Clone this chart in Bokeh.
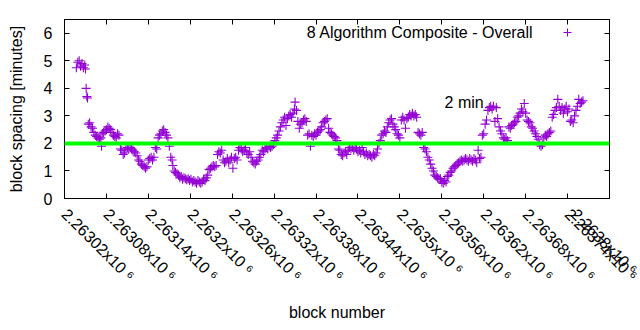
import math
from bokeh.plotting import figure
from bokeh.models import (Range1d, FixedTicker, LinearAxis, Span, Label, Legend,
                          LegendItem, ColumnDataSource)
from bokeh.embed import file_html
from bokeh.resources import INLINE

FONT = "Liberation Sans"
FS = "16px"

# ---- data -------------------------------------------------------------
BLOCK_BASE = 2263000
block_offsets = [
    37, 39, 41, 43, 45, 47, 49, 50, 51, 52,
    53, 54, 56, 58, 60, 62, 64, 66, 68, 70,
    72, 73, 74, 76, 78, 80, 82, 84, 86, 88,
    90, 92, 94, 96, 98, 100, 102, 104, 106, 108,
    110, 112, 114, 116, 118, 120, 122, 124, 126, 128,
    130, 132, 134, 136, 138, 140, 142, 144, 146, 148,
    150, 152, 154, 156, 158, 160, 162, 164, 166, 168,
    170, 172, 174, 175, 177, 179, 181, 183, 185, 187,
    189, 191, 193, 195, 197, 199, 201, 203, 205, 207,
    209, 211, 213, 215, 217, 219, 221, 223, 225, 227,
    229, 231, 233, 235, 237, 239, 241, 243, 245, 247,
    249, 251, 253, 255, 257, 259, 261, 263, 265, 267,
    269, 271, 273, 275, 277, 279, 281, 283, 285, 287,
    289, 291, 293, 295, 297, 299, 301, 303, 305, 307,
    309, 311, 313, 315, 317, 319, 321, 323, 325, 327,
    329, 331, 333, 335, 337, 339, 341, 343, 345, 347,
    349, 350, 352, 354, 356, 358, 360, 362, 364, 366,
    368, 370, 372, 374, 376, 378, 380, 382, 384, 386,
    388, 390, 392, 394, 396, 398, 400, 402, 404, 406,
    408, 410, 412, 414, 416, 418, 420, 422, 424, 426,
    428, 430, 432, 434, 436, 438, 440, 442, 444, 446,
    448, 450, 452, 454, 456, 458, 460, 462, 464, 466,
    468, 470, 472, 474, 476, 478, 480, 482, 484, 486,
    488, 490, 492, 494, 496, 498, 500, 502, 504, 506,
    508, 510, 512, 514, 516, 518, 520, 522, 524, 526,
    528, 530, 532, 534, 536, 538, 540, 542, 544, 546,
    548, 550, 552, 554, 556, 558, 560, 562, 564, 566,
    568, 570, 572, 574, 576, 578, 580, 582, 584, 586,
    588, 590, 592, 594, 596, 598, 600, 602, 604, 606,
    608, 610, 612, 614, 616, 618, 620, 622, 624, 626,
    628, 630, 632, 634, 636, 638, 640, 642, 644, 646,
    648, 650, 652, 654, 656, 658, 660, 662, 664, 666,
    668, 670, 672, 674, 676, 678, 680, 682, 684, 686,
    688, 690, 692, 694, 696, 698, 700, 702, 704, 706,
    708, 710, 712, 714, 716, 718, 720, 722, 724, 726,
    728, 730, 732, 734, 736, 738, 740, 742, 744, 746,
    748, 750, 752, 754, 756, 758, 760, 762,
]
spacing_minutes = [
    4.75, 4.95, 5.0, 4.8, 4.9, 4.75, 4.85, 4.7, 4.0, 3.7,
    3.65, 2.7, 2.75, 2.6, 2.55, 2.4, 2.3, 2.25, 2.2, 2.15,
    2.2, 1.9, 2.35, 2.4, 2.45, 2.5, 2.6, 2.55, 2.5, 2.4,
    2.3, 2.25, 2.2, 2.35, 2.3, 1.8, 1.75, 1.6, 1.65, 1.8,
    1.85, 1.8, 1.85, 1.8, 1.75, 1.7, 1.65, 1.55, 1.4, 1.35,
    1.25, 1.2, 1.15, 1.1, 1.15, 1.4, 1.45, 1.5, 1.4, 1.5,
    1.85, 1.8, 2.2, 2.3, 2.35, 2.45, 2.5, 2.4, 2.3, 2.2,
    1.9, 1.5, 1.4, 1.2, 1.0, 0.95, 0.9, 0.85, 0.75, 0.8,
    0.7, 0.75, 0.72, 0.68, 0.72, 0.65, 0.7, 0.6, 0.65, 0.6,
    0.55, 0.65, 0.6, 0.55, 0.6, 0.7, 0.65, 0.75, 0.85, 1.05,
    1.1, 1.15, 1.2, 1.15, 1.2, 1.6, 1.7, 1.65, 1.75, 1.4,
    1.3, 1.35, 1.45, 1.3, 1.4, 1.5, 1.1, 1.45, 1.5, 1.4,
    1.75, 1.85, 1.8, 1.7, 1.75, 1.85, 1.65, 1.6, 1.7, 1.5,
    1.35, 1.3, 1.25, 1.35, 1.4, 1.5, 1.6, 1.75, 1.7, 1.8,
    1.85, 1.8, 1.9, 1.85, 1.9, 1.95, 2.1, 2.2, 2.3, 2.45,
    2.6, 2.75, 2.85, 2.95, 2.65, 2.9, 3.0, 3.05, 2.95, 3.1,
    3.25, 3.5, 3.2, 2.8, 2.55, 2.7, 2.75, 2.85, 2.9, 2.8,
    2.3, 2.35, 1.9, 2.3, 2.25, 2.35, 2.3, 2.4, 2.45, 2.5,
    2.6, 2.75, 2.8, 2.85, 2.9, 2.55, 2.4, 2.35, 2.3, 2.25,
    2.2, 2.1, 1.8, 1.75, 1.6, 1.55, 1.65, 1.7, 1.6, 1.75,
    1.85, 1.8, 1.85, 1.75, 1.85, 1.8, 1.7, 1.75, 1.65, 1.85,
    1.7, 1.6, 1.65, 1.55, 1.6, 1.55, 1.5, 1.6, 1.55, 1.65,
    1.8, 2.0, 2.1, 2.3, 2.35, 2.45, 2.4, 2.6, 2.75, 2.85,
    2.9, 2.7, 2.6, 2.5, 2.35, 2.3, 2.2, 2.85, 2.95, 2.85,
    2.55, 2.9, 2.95, 3.05, 3.0, 3.1, 3.0, 3.05, 2.95, 2.4,
    2.35, 2.3, 2.4, 1.85, 1.8, 1.7, 1.5, 1.4, 1.25, 1.1,
    1.0, 0.85, 0.8, 0.75, 0.7, 0.72, 0.6, 0.55, 0.65, 0.6,
    0.8, 0.85, 0.95, 1.0, 1.1, 1.15, 1.2, 1.25, 1.3, 1.35,
    1.4, 1.35, 1.4, 1.45, 1.4, 1.35, 1.45, 1.4, 1.35, 1.45,
    1.4, 1.3, 1.75, 1.45, 1.5, 2.3, 2.35, 2.7, 2.85, 3.2,
    3.3, 3.35, 3.25, 3.35, 2.8, 3.3, 2.9, 2.6, 2.45, 2.35,
    2.2, 2.15, 2.2, 2.1, 2.6, 2.55, 2.65, 2.7, 2.75, 2.8,
    2.95, 3.0, 3.1, 3.25, 3.15, 3.45, 3.1, 2.85, 2.8, 2.75,
    2.6, 2.55, 2.45, 2.35, 2.25, 2.15, 1.95, 1.9, 1.95, 2.2,
    2.3, 2.25, 2.35, 2.4, 2.45, 2.95, 3.05, 3.2, 3.3, 3.6,
    3.35, 3.2, 3.3, 3.1, 3.25, 3.35, 3.15, 3.25, 2.8, 2.85,
    2.75, 3.0, 3.2, 3.35, 3.6, 3.45, 3.5, 3.55,
]
block_numbers = [BLOCK_BASE + o for o in block_offsets]

x_tick_values = [2263020, 2263080, 2263140, 2263200, 2263260, 2263320, 2263380,
                 2263440, 2263500, 2263560, 2263620, 2263680, 2263740, 2263800]
x_tick_labels = ["2.26302x10 \u2076", "2.26308x10 \u2076", "2.26314x10 \u2076",
                 "2.2632x10 \u2076", "2.26326x10 \u2076", "2.26332x10 \u2076",
                 "2.26338x10 \u2076", "2.26344x10 \u2076", "2.2635x10 \u2076",
                 "2.26356x10 \u2076", "2.26362x10 \u2076", "2.26368x10 \u2076",
                 "2.26374x10 \u2076", "2.2638x10 \u2076"]
y_tick_values = [0, 1, 2, 3, 4, 5, 6]

target_minutes = 2
target_label = "2 min"
series_name = "8 Algorithm Composite - Overall"

# ---- figure -----------------------------------------------------------
p = figure(width=640, height=330, output_backend="svg", toolbar_location=None,
           x_range=Range1d(2263020, 2263800), y_range=Range1d(0, 6.5),
           min_border_left=64, min_border_right=31, min_border_top=19,
           min_border_bottom=132, background_fill_color="white",
           border_fill_color="white")
p.grid.visible = False
p.outline_line_color = "black"
p.outline_line_width = 1
p.outline_line_alpha = 1

src = ColumnDataSource(dict(block=block_numbers, minutes=spacing_minutes))
r = p.scatter(x="block", y="minutes", source=src, marker="cross", size=9,
              line_color="#9400d3", line_width=1.1)

p.add_layout(Span(location=target_minutes, dimension="width",
                  line_color="#00ff00", line_width=4))

p.add_layout(Label(x=2263620, y=3.5, text=target_label, text_align="right",
                   text_baseline="middle", text_font=FONT,
                   text_font_size=FS, text_color="black"))

# axes
xa = p.xaxis[0]
xa.ticker = FixedTicker(ticks=x_tick_values)
xa.major_label_overrides = {v: l for v, l in zip(x_tick_values, x_tick_labels)}
xa.major_label_orientation = -math.pi / 4
xa.axis_label = "block number"

ya = p.yaxis[0]
ya.ticker = FixedTicker(ticks=y_tick_values)
ya.axis_label = "block spacing [minutes]"

for ax in (xa, ya):
    ax.major_tick_in = 5
    ax.major_tick_out = 0
    ax.minor_tick_line_color = None
    ax.axis_line_color = "black"
    ax.major_tick_line_color = "black"
    ax.major_label_text_font = FONT
    ax.major_label_text_font_size = FS
    ax.major_label_text_color = "black"
    ax.axis_label_text_font = FONT
    ax.axis_label_text_font_size = FS
    ax.axis_label_text_font_style = "normal"
    ax.axis_label_text_color = "black"

xa.major_label_standoff = 13
xa.axis_label_standoff = 11
ya.major_label_standoff = 12
ya.axis_label_standoff = 16

top = LinearAxis(ticker=FixedTicker(ticks=x_tick_values), major_tick_in=5,
                 major_tick_out=0, minor_tick_line_color=None,
                 major_label_text_font_size="1px", major_label_text_color=None,
                 major_label_standoff=0, axis_line_color="black")
p.add_layout(top, "above")
right = LinearAxis(ticker=FixedTicker(ticks=y_tick_values), major_tick_in=5,
                   major_tick_out=0, minor_tick_line_color=None,
                   major_label_text_font_size="1px", major_label_text_color=None,
                   major_label_standoff=0, axis_line_color="black")
p.add_layout(right, "right")

# key: text on the left, sample on the right (gnuplot style)
p.add_layout(Label(x=469, y=166, x_units="screen", y_units="screen",
                   text=series_name, text_align="right", text_baseline="middle",
                   text_font=FONT, text_font_size=FS, text_color="black"))
legend = Legend(items=[LegendItem(label=" ", renderers=[r])],
                location=(493, 156), padding=0, margin=0, spacing=0,
                glyph_width=20, glyph_height=20, label_height=20,
                label_standoff=0, label_text_font=FONT,
                label_text_font_size=FS, label_text_color="black",
                border_line_color=None, background_fill_alpha=0)
p.add_layout(legend)

open("out.html", "w").write(file_html(p, INLINE))
